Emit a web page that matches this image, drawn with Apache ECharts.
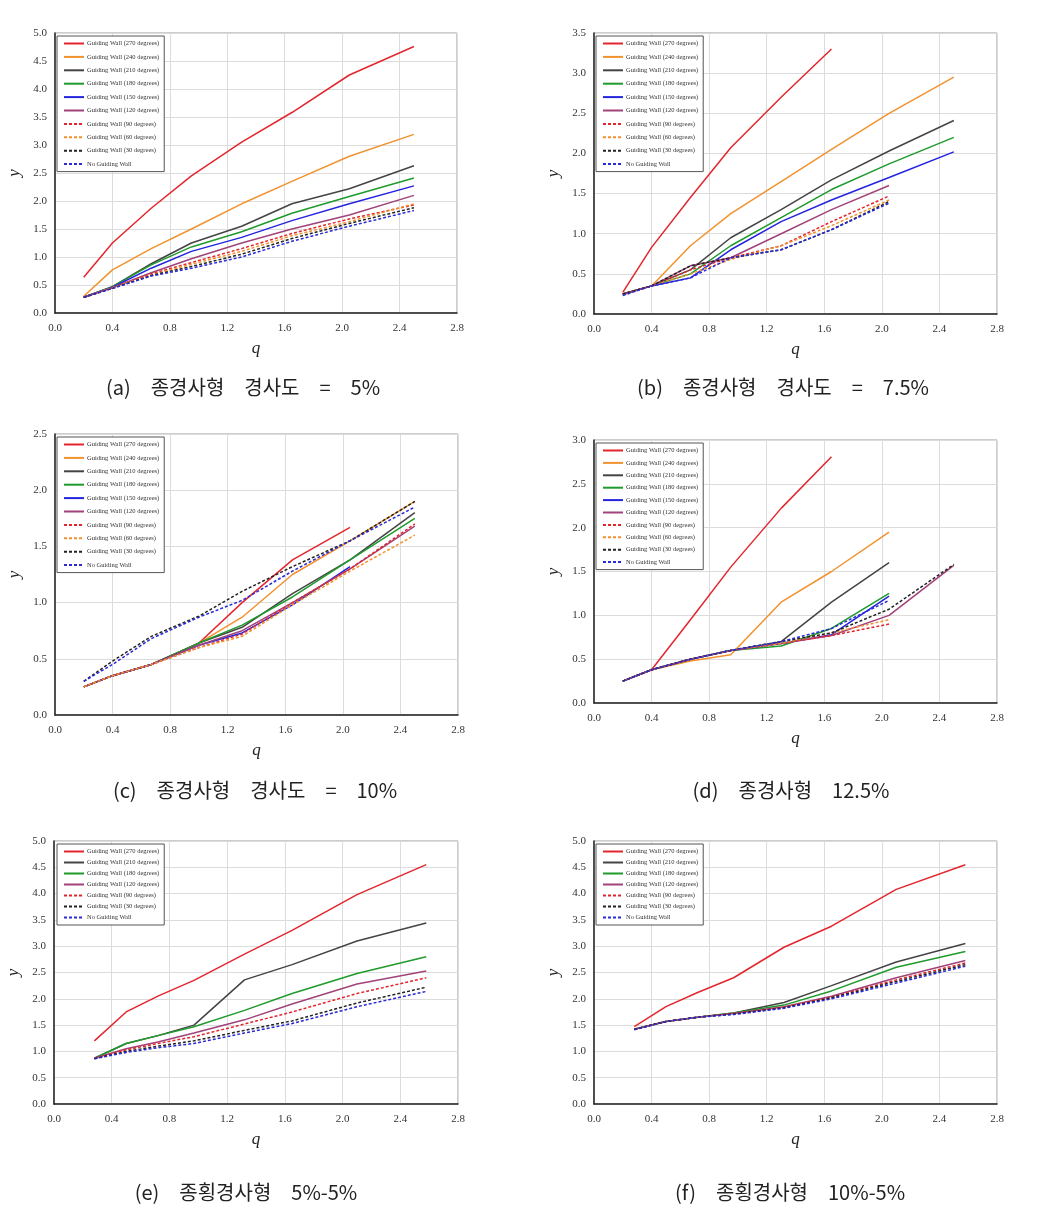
<!DOCTYPE html>
<html><head><meta charset="utf-8">
<script src="https://cdn.jsdelivr.net/npm/echarts@6/dist/echarts.min.js"></script>
<style>html,body{margin:0;padding:0;background:#fff}#c{width:1047px;height:1232px}</style>
</head><body><div id="c"></div>
<script>
// x (q) values
const qStd = [0.2, 0.4, 0.67, 0.95, 1.3, 1.65, 2.05, 2.5];
const qC   = [0.2, 0.4, 0.67, 1.0, 1.3, 1.65, 2.05, 2.5];
const qEF  = [0.28, 0.5, 0.72, 0.97, 1.32, 1.65, 2.1, 2.58];

const names = ['Guiding Wall (270 degrees)','Guiding Wall (240 degrees)','Guiding Wall (210 degrees)',
  'Guiding Wall (180 degrees)','Guiding Wall (150 degrees)','Guiding Wall (120 degrees)',
  'Guiding Wall (90 degrees)','Guiding Wall (60 degrees)','Guiding Wall (30 degrees)','No Guiding Wall'];

const captions = ['(a)\u3000종경사형\u3000경사도\u3000=\u30005%','(b)\u3000종경사형\u3000경사도\u3000=\u30007.5%',
  '(c)\u3000종경사형\u3000경사도\u3000=\u300010%','(d)\u3000종경사형\u300012.5%',
  '(e)\u3000종횡경사형\u30005%-5%','(f)\u3000종횡경사형\u300010%-5%'];

const yMax = [5.0, 3.5, 2.5, 3.0, 5.0, 5.0];

// (a) 5%
const a270 = [0.64,1.25,1.87,2.45,3.05,3.58,4.25,4.76];
const a240 = [0.30,0.77,1.15,1.50,1.95,2.35,2.80,3.19];
const a210 = [0.28,0.47,0.88,1.25,1.55,1.95,2.22,2.63];
const a180 = [0.28,0.47,0.86,1.18,1.45,1.78,2.08,2.41];
const a150 = [0.28,0.46,0.80,1.10,1.35,1.65,1.95,2.27];
const a120 = [0.28,0.45,0.72,0.97,1.25,1.50,1.75,2.10];
const a90  = [0.28,0.45,0.70,0.90,1.15,1.42,1.68,1.93];
const a60  = [0.28,0.45,0.68,0.87,1.10,1.38,1.63,1.95];
const a30  = [0.28,0.44,0.67,0.83,1.05,1.33,1.60,1.88];
const a0   = [0.28,0.44,0.66,0.80,1.00,1.28,1.55,1.83];

// (b) 7.5%
const b270 = [0.27,0.83,1.45,2.07,2.70,3.30];
const b240 = [0.25,0.35,0.85,1.25,1.65,2.05,2.50,2.95];
const b210 = [0.25,0.35,0.55,0.95,1.30,1.67,2.03,2.41];
const b180 = [0.25,0.35,0.50,0.85,1.20,1.55,1.87,2.20];
const b150 = [0.25,0.35,0.45,0.80,1.15,1.42,1.70,2.02];
const b120 = [0.24,0.35,0.60,0.70,1.00,1.30,1.60];
const b90  = [0.25,0.35,0.55,0.70,0.85,1.15,1.47];
const b60  = [0.25,0.35,0.50,0.68,0.85,1.10,1.42];
const b30  = [0.25,0.35,0.60,0.70,0.80,1.05,1.40];
const b0   = [0.23,0.35,0.45,0.70,0.80,1.05,1.38];

// (c) 10%
const c270 = [0.25,0.35,0.45,0.64,1.00,1.38,1.67];
const c240 = [0.25,0.35,0.45,0.64,0.87,1.25,1.55,1.90];
const c210 = [0.25,0.35,0.45,0.64,0.78,1.08,1.38,1.80];
const c180 = [0.25,0.35,0.45,0.64,0.80,1.05,1.38,1.75];
const c150 = [0.25,0.35,0.45,0.62,0.73,0.98,1.32];
const c120 = [0.25,0.35,0.45,0.62,0.75,1.00,1.30,1.68];
const c90  = [0.25,0.35,0.45,0.60,0.72,1.00,1.30,1.70];
const c60  = [0.25,0.35,0.45,0.60,0.70,0.98,1.28,1.60];
const c30  = [0.30,0.48,0.70,0.88,1.10,1.32,1.55,1.90];
const c0   = [0.30,0.45,0.68,0.87,1.02,1.28,1.55,1.85];

// (d) 12.5%
const d270 = [0.25,0.38,0.95,1.55,2.22,2.81];
const d240 = [0.25,0.38,0.48,0.55,1.15,1.50,1.95];
const d210 = [0.25,0.38,0.50,0.60,0.70,1.15,1.60];
const d180 = [0.25,0.38,0.50,0.60,0.65,0.85,1.25];
const d150 = [0.25,0.38,0.50,0.60,0.68,0.78,1.22];
const d120 = [0.25,0.38,0.50,0.60,0.68,0.77,1.00,1.57];
const d90  = [0.25,0.38,0.50,0.60,0.68,0.77,0.90];
const d60  = [0.25,0.38,0.50,0.60,0.68,0.80,0.95];
const d30  = [0.25,0.38,0.50,0.60,0.70,0.80,1.07,1.58];
const d0   = [0.25,0.38,0.50,0.60,0.70,0.85,1.17];

// (e) 5%-5%
const e270 = [1.20,1.75,2.05,2.35,2.85,3.30,3.98,4.55];
const e210 = [0.87,1.15,1.30,1.50,2.36,2.65,3.10,3.44];
const e180 = [0.87,1.15,1.30,1.47,1.78,2.10,2.48,2.80];
const e120 = [0.87,1.05,1.18,1.35,1.60,1.90,2.28,2.53];
const e90  = [0.87,1.03,1.15,1.28,1.52,1.75,2.10,2.40];
const e30  = [0.86,1.00,1.10,1.20,1.40,1.58,1.92,2.22];
const e0   = [0.86,0.98,1.07,1.15,1.35,1.53,1.85,2.14];

// (f) 10%-5%
const f270 = [1.47,1.85,2.12,2.40,2.98,3.38,4.08,4.55];
const f210 = [1.42,1.57,1.65,1.73,1.93,2.25,2.70,3.05];
const f180 = [1.42,1.57,1.65,1.73,1.88,2.15,2.60,2.90];
const f120 = [1.42,1.57,1.65,1.72,1.85,2.05,2.40,2.73];
const f90  = [1.42,1.57,1.65,1.72,1.84,2.03,2.36,2.68];
const f30  = [1.42,1.57,1.65,1.71,1.83,2.02,2.33,2.65];
const f0   = [1.41,1.57,1.65,1.70,1.82,2.00,2.30,2.62];

const styles = {
  'Guiding Wall (270 degrees)': {c:'#e3262d', t:'solid'},
  'Guiding Wall (240 degrees)': {c:'#f2922e', t:'solid'},
  'Guiding Wall (210 degrees)': {c:'#444444', t:'solid'},
  'Guiding Wall (180 degrees)': {c:'#1f9a2c', t:'solid'},
  'Guiding Wall (150 degrees)': {c:'#2424e0', t:'solid'},
  'Guiding Wall (120 degrees)': {c:'#a1437a', t:'solid'},
  'Guiding Wall (90 degrees)':  {c:'#e3262d', t:[3,2]},
  'Guiding Wall (60 degrees)':  {c:'#f2922e', t:[3,2]},
  'Guiding Wall (30 degrees)':  {c:'#222222', t:[3,2]},
  'No Guiding Wall':            {c:'#2a2ad6', t:[3,2]}
};

const panels = [
  {q:qStd, s:[[names[0],a270],[names[1],a240],[names[2],a210],[names[3],a180],[names[4],a150],[names[5],a120],[names[6],a90],[names[7],a60],[names[8],a30],[names[9],a0]]},
  {q:qStd, s:[[names[0],b270],[names[1],b240],[names[2],b210],[names[3],b180],[names[4],b150],[names[5],b120],[names[6],b90],[names[7],b60],[names[8],b30],[names[9],b0]]},
  {q:qC,   s:[[names[0],c270],[names[1],c240],[names[2],c210],[names[3],c180],[names[4],c150],[names[5],c120],[names[6],c90],[names[7],c60],[names[8],c30],[names[9],c0]]},
  {q:qStd, s:[[names[0],d270],[names[1],d240],[names[2],d210],[names[3],d180],[names[4],d150],[names[5],d120],[names[6],d90],[names[7],d60],[names[8],d30],[names[9],d0]]},
  {q:qEF,  s:[[names[0],e270],[names[2],e210],[names[3],e180],[names[5],e120],[names[6],e90],[names[8],e30],[names[9],e0]]},
  {q:qEF,  s:[[names[0],f270],[names[2],f210],[names[3],f180],[names[5],f120],[names[6],f90],[names[8],f30],[names[9],f0]]}
];

// layout (pixels)
const grids = [
  {left:55, top:33, width:402, height:280},
  {left:594, top:33, width:403, height:281},
  {left:55, top:434, width:403, height:281},
  {left:594, top:440, width:403, height:263},
  {left:54, top:841, width:404, height:263},
  {left:594, top:841, width:403, height:263}
];
const legendPos = [
  {left:57, top:36, gap:6.4, h:8},
  {left:596, top:36, gap:6.4, h:8},
  {left:57, top:437, gap:6.4, h:8},
  {left:596, top:443, gap:5.4, h:8},
  {left:57, top:844, gap:4.0, h:6},
  {left:596, top:844, gap:4.0, h:6}
];
const capPos = [[243,387],[783,387],[255,790],[791,790],[246,1192],[790,1192]];

const serif = '"Liberation Serif","DejaVu Serif",serif';
const option = {
  animation:false,
  backgroundColor:'#fff',
  grid:[], xAxis:[], yAxis:[], series:[], legend:[], graphic:[]
};

panels.forEach((p, i) => {
  const g = grids[i];
  option.grid.push({left:g.left, top:g.top, width:g.width, height:g.height, show:true, borderColor:'#9a9a9a', borderWidth:1});
  option.xAxis.push({
    type:'value', gridIndex:i, min:0, max:2.8, interval:0.4,
    name:'q', nameLocation:'middle', nameGap:27,
    nameTextStyle:{fontFamily:serif, fontStyle:'italic', fontSize:17, color:'#222'},
    axisLine:{show:true, onZero:false, lineStyle:{color:'#222', width:1.5}},
    axisTick:{show:false},
    axisLabel:{fontFamily:serif, fontSize:11, color:'#333', margin:10, formatter:v=>v.toFixed(1)},
    splitLine:{show:true, lineStyle:{color:'#dcdcdc', width:1}}
  });
  option.yAxis.push({
    type:'value', gridIndex:i, min:0, max:yMax[i], interval:0.5,
    name:'y', nameLocation:'middle', nameGap:32,
    nameTextStyle:{fontFamily:serif, fontStyle:'italic', fontSize:17, color:'#222'},
    axisLine:{show:true, onZero:false, lineStyle:{color:'#222', width:1.5}},
    axisTick:{show:false},
    axisLabel:{fontFamily:serif, fontSize:11, color:'#333', margin:8, formatter:v=>v.toFixed(1)},
    splitLine:{show:true, lineStyle:{color:'#dcdcdc', width:1}}
  });
  const lp = legendPos[i];
  option.legend.push({
    orient:'vertical', left:lp.left, top:lp.top, itemGap:lp.gap, itemWidth:20, itemHeight:lp.h,
    padding:[4,5,4,6], borderColor:'#555', borderWidth:1, backgroundColor:'#fff',
    selectedMode:false,
    itemStyle:{opacity:0},
    textStyle:{fontFamily:serif, fontSize:6.5, color:'#333', padding:[0,0,0,-2]},
    data:p.s.map(s=>s[0])
  });
  p.s.forEach(([nm, ys]) => {
    const st = styles[nm];
    option.series.push({
      type:'line', name:nm, xAxisIndex:i, yAxisIndex:i, symbol:'none',
      lineStyle:{color:st.c, width:1.5, type:st.t}, itemStyle:{color:st.c},
      z: st.t==='solid'?2:3,
      data: ys.map((y,k)=>[p.q[k], y])
    });
  });
  option.graphic.push({
    type:'text', x:capPos[i][0], y:capPos[i][1],
    style:{text:captions[i], font:'20px "Noto Sans CJK KR", sans-serif', fill:'#222', textAlign:'center', textVerticalAlign:'middle'}
  });
});

const chart = echarts.init(document.getElementById('c'), null, {renderer:'canvas'});
chart.setOption(option);
</script></body></html>
